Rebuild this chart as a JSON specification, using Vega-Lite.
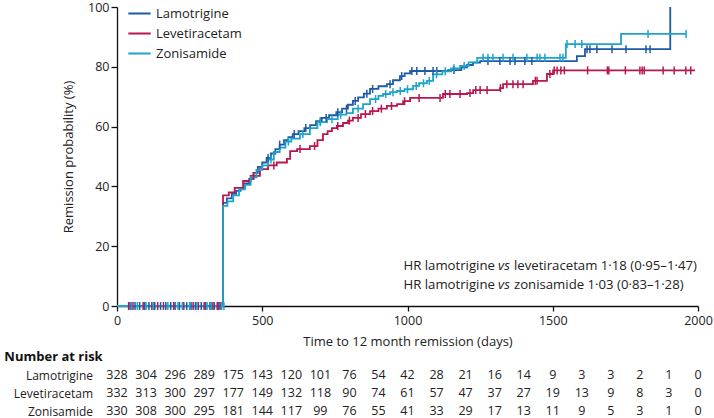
{
  "$schema": "https://vega.github.io/schema/vega-lite/v6.json",
  "padding": {"left": 4, "top": 1, "right": 0, "bottom": 0},
  "config": {
    "font": "Open Sans",
    "view": {"stroke": null},
    "axis": {"domainColor": "#111", "tickColor": "#111", "labelColor": "#222", "titleColor": "#222", "labelFontSize": 12.5, "titleFontSize": 13, "titleFontWeight": "normal", "grid": false, "domainWidth": 1.3, "tickWidth": 1.3, "labelFlush": false},
    "concat": {"spacing": 2}
  },
  "datasets": {
    "curves": [
      {"group":"Lamotrigine","day":0,"surv":0},{"group":"Lamotrigine","day":365,"surv":34.5},{"group":"Lamotrigine","day":378,"surv":36},{"group":"Lamotrigine","day":395,"surv":37.5},{"group":"Lamotrigine","day":410,"surv":38.5},{"group":"Lamotrigine","day":425,"surv":39.5},{"group":"Lamotrigine","day":440,"surv":41},{"group":"Lamotrigine","day":455,"surv":42.5},{"group":"Lamotrigine","day":470,"surv":44.5},{"group":"Lamotrigine","day":485,"surv":46.5},{"group":"Lamotrigine","day":500,"surv":48},{"group":"Lamotrigine","day":515,"surv":49.5},{"group":"Lamotrigine","day":530,"surv":51},{"group":"Lamotrigine","day":545,"surv":52.5},{"group":"Lamotrigine","day":560,"surv":54},{"group":"Lamotrigine","day":575,"surv":55.5},{"group":"Lamotrigine","day":590,"surv":56.5},{"group":"Lamotrigine","day":605,"surv":57.5},{"group":"Lamotrigine","day":625,"surv":58.5},{"group":"Lamotrigine","day":645,"surv":59.5},{"group":"Lamotrigine","day":665,"surv":60.5},{"group":"Lamotrigine","day":685,"surv":61.8},{"group":"Lamotrigine","day":705,"surv":62.9},{"group":"Lamotrigine","day":730,"surv":63.8},{"group":"Lamotrigine","day":755,"surv":64.8},{"group":"Lamotrigine","day":775,"surv":66},{"group":"Lamotrigine","day":795,"surv":67.3},{"group":"Lamotrigine","day":812,"surv":68.6},{"group":"Lamotrigine","day":830,"surv":69.8},{"group":"Lamotrigine","day":850,"surv":71},{"group":"Lamotrigine","day":871,"surv":72.6},{"group":"Lamotrigine","day":900,"surv":73.5},{"group":"Lamotrigine","day":929,"surv":74.2},{"group":"Lamotrigine","day":950,"surv":75.5},{"group":"Lamotrigine","day":974,"surv":76.9},{"group":"Lamotrigine","day":990,"surv":77.8},{"group":"Lamotrigine","day":1009,"surv":78.6},{"group":"Lamotrigine","day":1140,"surv":78.9},{"group":"Lamotrigine","day":1185,"surv":79.8},{"group":"Lamotrigine","day":1205,"surv":80.6},{"group":"Lamotrigine","day":1225,"surv":81.4},{"group":"Lamotrigine","day":1250,"surv":81.9},{"group":"Lamotrigine","day":1583,"surv":83.6},{"group":"Lamotrigine","day":1611,"surv":85.9},{"group":"Lamotrigine","day":1904,"surv":85.9},{"group":"Lamotrigine","day":1904.5,"surv":100},
      {"group":"Levetiracetam","day":0,"surv":0},{"group":"Levetiracetam","day":365,"surv":37},{"group":"Levetiracetam","day":385,"surv":38},{"group":"Levetiracetam","day":405,"surv":39.5},{"group":"Levetiracetam","day":434,"surv":41.8},{"group":"Levetiracetam","day":460,"surv":43.5},{"group":"Levetiracetam","day":492,"surv":45.8},{"group":"Levetiracetam","day":520,"surv":47},{"group":"Levetiracetam","day":550,"surv":48},{"group":"Levetiracetam","day":585,"surv":49.2},{"group":"Levetiracetam","day":596,"surv":51.8},{"group":"Levetiracetam","day":620,"surv":52.5},{"group":"Levetiracetam","day":664,"surv":53.5},{"group":"Levetiracetam","day":690,"surv":55.5},{"group":"Levetiracetam","day":709,"surv":57.5},{"group":"Levetiracetam","day":725,"surv":58.5},{"group":"Levetiracetam","day":740,"surv":59.5},{"group":"Levetiracetam","day":757,"surv":60.2},{"group":"Levetiracetam","day":778,"surv":61.2},{"group":"Levetiracetam","day":795,"surv":62},{"group":"Levetiracetam","day":812,"surv":62.9},{"group":"Levetiracetam","day":840,"surv":64.2},{"group":"Levetiracetam","day":871,"surv":65.2},{"group":"Levetiracetam","day":900,"surv":66},{"group":"Levetiracetam","day":929,"surv":66.9},{"group":"Levetiracetam","day":964,"surv":67.5},{"group":"Levetiracetam","day":985,"surv":68.5},{"group":"Levetiracetam","day":1009,"surv":69.6},{"group":"Levetiracetam","day":1122,"surv":70.9},{"group":"Levetiracetam","day":1205,"surv":71.2},{"group":"Levetiracetam","day":1226,"surv":72.2},{"group":"Levetiracetam","day":1318,"surv":72.9},{"group":"Levetiracetam","day":1329,"surv":74.2},{"group":"Levetiracetam","day":1432,"surv":75.3},{"group":"Levetiracetam","day":1480,"surv":77.6},{"group":"Levetiracetam","day":1501,"surv":78.8},{"group":"Levetiracetam","day":1990,"surv":78.8},
      {"group":"Zonisamide","day":0,"surv":0},{"group":"Zonisamide","day":365,"surv":33.5},{"group":"Zonisamide","day":380,"surv":35},{"group":"Zonisamide","day":400,"surv":37},{"group":"Zonisamide","day":420,"surv":39},{"group":"Zonisamide","day":440,"surv":40.5},{"group":"Zonisamide","day":460,"surv":43},{"group":"Zonisamide","day":480,"surv":45.5},{"group":"Zonisamide","day":500,"surv":47},{"group":"Zonisamide","day":520,"surv":49},{"group":"Zonisamide","day":540,"surv":51.5},{"group":"Zonisamide","day":560,"surv":53},{"group":"Zonisamide","day":580,"surv":55},{"group":"Zonisamide","day":600,"surv":56},{"group":"Zonisamide","day":630,"surv":57.5},{"group":"Zonisamide","day":664,"surv":59.5},{"group":"Zonisamide","day":690,"surv":61.5},{"group":"Zonisamide","day":723,"surv":62.5},{"group":"Zonisamide","day":760,"surv":64},{"group":"Zonisamide","day":790,"surv":64.5},{"group":"Zonisamide","day":812,"surv":66},{"group":"Zonisamide","day":847,"surv":67.5},{"group":"Zonisamide","day":871,"surv":69.2},{"group":"Zonisamide","day":900,"surv":70.3},{"group":"Zonisamide","day":916,"surv":70.9},{"group":"Zonisamide","day":940,"surv":71.5},{"group":"Zonisamide","day":964,"surv":71.9},{"group":"Zonisamide","day":990,"surv":72.5},{"group":"Zonisamide","day":1019,"surv":73.6},{"group":"Zonisamide","day":1040,"surv":74.5},{"group":"Zonisamide","day":1067,"surv":75.3},{"group":"Zonisamide","day":1088,"surv":77.5},{"group":"Zonisamide","day":1120,"surv":78.5},{"group":"Zonisamide","day":1150,"surv":79.5},{"group":"Zonisamide","day":1181,"surv":80.3},{"group":"Zonisamide","day":1210,"surv":81.5},{"group":"Zonisamide","day":1240,"surv":83},{"group":"Zonisamide","day":1545,"surv":87.6},{"group":"Zonisamide","day":1735,"surv":91},{"group":"Zonisamide","day":1960,"surv":91}
    ],
    "censors": [
      {"group":"Lamotrigine","day":45,"surv":0},{"group":"Lamotrigine","day":62,"surv":0},{"group":"Lamotrigine","day":78,"surv":0},{"group":"Lamotrigine","day":95,"surv":0},{"group":"Lamotrigine","day":110,"surv":0},{"group":"Lamotrigine","day":130,"surv":0},{"group":"Lamotrigine","day":150,"surv":0},{"group":"Lamotrigine","day":168,"surv":0},{"group":"Lamotrigine","day":185,"surv":0},{"group":"Lamotrigine","day":200,"surv":0},{"group":"Lamotrigine","day":215,"surv":0},{"group":"Lamotrigine","day":240,"surv":0},{"group":"Lamotrigine","day":255,"surv":0},{"group":"Lamotrigine","day":270,"surv":0},{"group":"Lamotrigine","day":290,"surv":0},{"group":"Lamotrigine","day":305,"surv":0},{"group":"Lamotrigine","day":320,"surv":0},{"group":"Lamotrigine","day":335,"surv":0},{"group":"Lamotrigine","day":350,"surv":0},
      {"group":"Levetiracetam","day":40,"surv":0},{"group":"Levetiracetam","day":55,"surv":0},{"group":"Levetiracetam","day":90,"surv":0},{"group":"Levetiracetam","day":120,"surv":0},{"group":"Levetiracetam","day":140,"surv":0},{"group":"Levetiracetam","day":160,"surv":0},{"group":"Levetiracetam","day":195,"surv":0},{"group":"Levetiracetam","day":230,"surv":0},{"group":"Levetiracetam","day":262,"surv":0},{"group":"Levetiracetam","day":280,"surv":0},{"group":"Levetiracetam","day":300,"surv":0},{"group":"Levetiracetam","day":330,"surv":0},{"group":"Levetiracetam","day":345,"surv":0},{"group":"Levetiracetam","day":355,"surv":0},
      {"group":"Zonisamide","day":50,"surv":0},{"group":"Zonisamide","day":70,"surv":0},{"group":"Zonisamide","day":100,"surv":0},{"group":"Zonisamide","day":125,"surv":0},{"group":"Zonisamide","day":175,"surv":0},{"group":"Zonisamide","day":210,"surv":0},{"group":"Zonisamide","day":225,"surv":0},{"group":"Zonisamide","day":250,"surv":0},{"group":"Zonisamide","day":275,"surv":0},{"group":"Zonisamide","day":310,"surv":0},{"group":"Zonisamide","day":325,"surv":0},{"group":"Zonisamide","day":360,"surv":0},{"group":"Zonisamide","day":368,"surv":0},
      {"group":"Lamotrigine","day":520,"surv":49.5},{"group":"Lamotrigine","day":560,"surv":54},{"group":"Lamotrigine","day":610,"surv":57.5},{"group":"Lamotrigine","day":650,"surv":59.5},{"group":"Lamotrigine","day":700,"surv":61.8},{"group":"Lamotrigine","day":720,"surv":62.9},{"group":"Lamotrigine","day":760,"surv":64.8},{"group":"Lamotrigine","day":790,"surv":66},{"group":"Lamotrigine","day":820,"surv":68.6},{"group":"Lamotrigine","day":860,"surv":71},{"group":"Lamotrigine","day":880,"surv":72.6},{"group":"Lamotrigine","day":940,"surv":74.2},{"group":"Lamotrigine","day":980,"surv":76.9},{"group":"Lamotrigine","day":1015,"surv":78.6},{"group":"Lamotrigine","day":1032,"surv":78.6},{"group":"Lamotrigine","day":1060,"surv":78.6},{"group":"Lamotrigine","day":1088,"surv":78.6},{"group":"Lamotrigine","day":1101,"surv":78.6},{"group":"Lamotrigine","day":1160,"surv":78.9},{"group":"Lamotrigine","day":1277,"surv":81.9},{"group":"Lamotrigine","day":1318,"surv":81.9},{"group":"Lamotrigine","day":1353,"surv":81.9},{"group":"Lamotrigine","day":1370,"surv":81.9},{"group":"Lamotrigine","day":1404,"surv":81.9},{"group":"Lamotrigine","day":1428,"surv":81.9},{"group":"Lamotrigine","day":1618,"surv":85.9},{"group":"Lamotrigine","day":1628,"surv":85.9},{"group":"Lamotrigine","day":1652,"surv":85.9},{"group":"Lamotrigine","day":1704,"surv":85.9},{"group":"Lamotrigine","day":1752,"surv":85.9},{"group":"Lamotrigine","day":1821,"surv":85.9},{"group":"Lamotrigine","day":1835,"surv":85.9},
      {"group":"Levetiracetam","day":470,"surv":43.5},{"group":"Levetiracetam","day":540,"surv":47},{"group":"Levetiracetam","day":630,"surv":52.5},{"group":"Levetiracetam","day":680,"surv":53.5},{"group":"Levetiracetam","day":760,"surv":60.2},{"group":"Levetiracetam","day":800,"surv":62},{"group":"Levetiracetam","day":830,"surv":62.9},{"group":"Levetiracetam","day":855,"surv":64.2},{"group":"Levetiracetam","day":880,"surv":65.2},{"group":"Levetiracetam","day":910,"surv":66},{"group":"Levetiracetam","day":945,"surv":66.9},{"group":"Levetiracetam","day":990,"surv":68.5},{"group":"Levetiracetam","day":1040,"surv":69.6},{"group":"Levetiracetam","day":1112,"surv":69.6},{"group":"Levetiracetam","day":1130,"surv":70.9},{"group":"Levetiracetam","day":1146,"surv":70.9},{"group":"Levetiracetam","day":1181,"surv":70.9},{"group":"Levetiracetam","day":1215,"surv":71.2},{"group":"Levetiracetam","day":1235,"surv":72.2},{"group":"Levetiracetam","day":1250,"surv":72.2},{"group":"Levetiracetam","day":1274,"surv":72.2},{"group":"Levetiracetam","day":1320,"surv":72.9},{"group":"Levetiracetam","day":1342,"surv":74.2},{"group":"Levetiracetam","day":1363,"surv":74.2},{"group":"Levetiracetam","day":1380,"surv":74.2},{"group":"Levetiracetam","day":1398,"surv":74.2},{"group":"Levetiracetam","day":1440,"surv":75.3},{"group":"Levetiracetam","day":1446,"surv":75.3},{"group":"Levetiracetam","day":1490,"surv":77.6},{"group":"Levetiracetam","day":1505,"surv":78.8},{"group":"Levetiracetam","day":1515,"surv":78.8},{"group":"Levetiracetam","day":1528,"surv":78.8},{"group":"Levetiracetam","day":1540,"surv":78.8},{"group":"Levetiracetam","day":1620,"surv":78.8},{"group":"Levetiracetam","day":1688,"surv":78.8},{"group":"Levetiracetam","day":1693,"surv":78.8},{"group":"Levetiracetam","day":1750,"surv":78.8},{"group":"Levetiracetam","day":1800,"surv":78.8},{"group":"Levetiracetam","day":1808,"surv":78.8},{"group":"Levetiracetam","day":1815,"surv":78.8},{"group":"Levetiracetam","day":1880,"surv":78.8},{"group":"Levetiracetam","day":1918,"surv":78.8},{"group":"Levetiracetam","day":1958,"surv":78.8},{"group":"Levetiracetam","day":1975,"surv":78.8},
      {"group":"Zonisamide","day":530,"surv":49},{"group":"Zonisamide","day":590,"surv":55},{"group":"Zonisamide","day":640,"surv":57.5},{"group":"Zonisamide","day":700,"surv":61.5},{"group":"Zonisamide","day":740,"surv":62.5},{"group":"Zonisamide","day":770,"surv":64},{"group":"Zonisamide","day":830,"surv":66},{"group":"Zonisamide","day":890,"surv":69.2},{"group":"Zonisamide","day":925,"surv":70.9},{"group":"Zonisamide","day":950,"surv":71.5},{"group":"Zonisamide","day":975,"surv":71.9},{"group":"Zonisamide","day":1000,"surv":72.5},{"group":"Zonisamide","day":1030,"surv":73.6},{"group":"Zonisamide","day":1055,"surv":74.5},{"group":"Zonisamide","day":1075,"surv":75.3},{"group":"Zonisamide","day":1100,"surv":77.5},{"group":"Zonisamide","day":1130,"surv":78.5},{"group":"Zonisamide","day":1160,"surv":79.5},{"group":"Zonisamide","day":1195,"surv":80.3},{"group":"Zonisamide","day":1260,"surv":83},{"group":"Zonisamide","day":1277,"surv":83},{"group":"Zonisamide","day":1294,"surv":83},{"group":"Zonisamide","day":1329,"surv":83},{"group":"Zonisamide","day":1363,"surv":83},{"group":"Zonisamide","day":1411,"surv":83},{"group":"Zonisamide","day":1446,"surv":83},{"group":"Zonisamide","day":1456,"surv":83},{"group":"Zonisamide","day":1473,"surv":83},{"group":"Zonisamide","day":1525,"surv":83},{"group":"Zonisamide","day":1535,"surv":83},{"group":"Zonisamide","day":1549,"surv":87.6},{"group":"Zonisamide","day":1577,"surv":87.6},{"group":"Zonisamide","day":1600,"surv":87.6},{"group":"Zonisamide","day":1828,"surv":91},{"group":"Zonisamide","day":1959,"surv":91}
    ],
    "hr": [
      {"day":1332,"pos":13.4,"pre":"HR lamotrigine","vs":"vs","post":"levetiracetam 1·18 (0·95–1·47)"},
      {"day":1332,"pos":7.0,"pre":"HR lamotrigine","vs":"vs","post":"zonisamide 1·03 (0·83–1·28)"}
    ],
    "risk": [
      {"group":"Lamotrigine","day":0,"n":328},{"group":"Lamotrigine","day":100,"n":304},{"group":"Lamotrigine","day":200,"n":296},{"group":"Lamotrigine","day":300,"n":289},{"group":"Lamotrigine","day":400,"n":175},{"group":"Lamotrigine","day":500,"n":143},{"group":"Lamotrigine","day":600,"n":120},{"group":"Lamotrigine","day":700,"n":101},{"group":"Lamotrigine","day":800,"n":76},{"group":"Lamotrigine","day":900,"n":54},{"group":"Lamotrigine","day":1000,"n":42},{"group":"Lamotrigine","day":1100,"n":28},{"group":"Lamotrigine","day":1200,"n":21},{"group":"Lamotrigine","day":1300,"n":16},{"group":"Lamotrigine","day":1400,"n":14},{"group":"Lamotrigine","day":1500,"n":9},{"group":"Lamotrigine","day":1600,"n":3},{"group":"Lamotrigine","day":1700,"n":3},{"group":"Lamotrigine","day":1800,"n":2},{"group":"Lamotrigine","day":1900,"n":1},{"group":"Lamotrigine","day":2000,"n":0},
      {"group":"Levetiracetam","day":0,"n":332},{"group":"Levetiracetam","day":100,"n":313},{"group":"Levetiracetam","day":200,"n":300},{"group":"Levetiracetam","day":300,"n":297},{"group":"Levetiracetam","day":400,"n":177},{"group":"Levetiracetam","day":500,"n":149},{"group":"Levetiracetam","day":600,"n":132},{"group":"Levetiracetam","day":700,"n":118},{"group":"Levetiracetam","day":800,"n":90},{"group":"Levetiracetam","day":900,"n":74},{"group":"Levetiracetam","day":1000,"n":61},{"group":"Levetiracetam","day":1100,"n":57},{"group":"Levetiracetam","day":1200,"n":47},{"group":"Levetiracetam","day":1300,"n":37},{"group":"Levetiracetam","day":1400,"n":27},{"group":"Levetiracetam","day":1500,"n":19},{"group":"Levetiracetam","day":1600,"n":13},{"group":"Levetiracetam","day":1700,"n":9},{"group":"Levetiracetam","day":1800,"n":8},{"group":"Levetiracetam","day":1900,"n":3},{"group":"Levetiracetam","day":2000,"n":0},
      {"group":"Zonisamide","day":0,"n":330},{"group":"Zonisamide","day":100,"n":308},{"group":"Zonisamide","day":200,"n":300},{"group":"Zonisamide","day":300,"n":295},{"group":"Zonisamide","day":400,"n":181},{"group":"Zonisamide","day":500,"n":144},{"group":"Zonisamide","day":600,"n":117},{"group":"Zonisamide","day":700,"n":99},{"group":"Zonisamide","day":800,"n":76},{"group":"Zonisamide","day":900,"n":55},{"group":"Zonisamide","day":1000,"n":41},{"group":"Zonisamide","day":1100,"n":33},{"group":"Zonisamide","day":1200,"n":29},{"group":"Zonisamide","day":1300,"n":17},{"group":"Zonisamide","day":1400,"n":13},{"group":"Zonisamide","day":1500,"n":11},{"group":"Zonisamide","day":1600,"n":9},{"group":"Zonisamide","day":1700,"n":5},{"group":"Zonisamide","day":1800,"n":3},{"group":"Zonisamide","day":1900,"n":1},{"group":"Zonisamide","day":2000,"n":0}
    ]
  },
  "vconcat": [
    {
      "width": 581,
      "height": 299,
      "layer": [
        {
          "data": {"name": "curves"},
          "mark": {"type": "line", "interpolate": "step-after", "strokeWidth": 1.8},
          "encoding": {
            "x": {"field": "day", "type": "quantitative", "scale": {"domain": [0, 2000], "nice": false},
                  "axis": {"values": [0, 500, 1000, 1500, 2000], "format": "d", "tickSize": 5, "labelPadding": 3, "title": "Time to 12 month remission (days)", "titlePadding": 9}},
            "y": {"field": "surv", "type": "quantitative", "scale": {"domain": [0, 100], "nice": false},
                  "axis": {"values": [0, 20, 40, 60, 80, 100], "tickSize": 6, "labelPadding": 2, "title": "Remission probability (%)", "titlePadding": 12}},
            "color": {"field": "group", "type": "nominal",
                      "scale": {"domain": ["Lamotrigine", "Levetiracetam", "Zonisamide"], "range": ["#1f5aa6", "#b9164f", "#1ea3cc"]},
                      "legend": {"title": null, "orient": "none", "legendX": 10, "legendY": -6, "symbolType": "stroke", "symbolSize": 500, "symbolStrokeWidth": 2, "labelFontSize": 13, "labelColor": "#222", "rowPadding": -4, "labelOffset": 4}},
            "detail": {"field": "group"}
          }
        },
        {
          "data": {"name": "censors"},
          "mark": {"type": "point", "shape": "M0,-1L0,1", "filled": false, "strokeWidth": 1.5, "size": 64, "opacity": 1},
          "encoding": {
            "x": {"field": "day", "type": "quantitative"},
            "y": {"field": "surv", "type": "quantitative"},
            "color": {"field": "group", "type": "nominal", "legend": null}
          }
        },
        {
          "data": {"name": "hr"},
          "mark": {"type": "text", "align": "right", "baseline": "middle", "fontSize": 13.2, "color": "#222", "dx": -9},
          "encoding": {"x": {"field": "day", "type": "quantitative"}, "y": {"field": "pos", "type": "quantitative"}, "text": {"field": "pre"}}
        },
        {
          "data": {"name": "hr"},
          "mark": {"type": "text", "align": "center", "baseline": "middle", "fontSize": 13.2, "fontStyle": "italic", "color": "#222"},
          "encoding": {"x": {"field": "day", "type": "quantitative"}, "y": {"field": "pos", "type": "quantitative"}, "text": {"field": "vs"}}
        },
        {
          "data": {"name": "hr"},
          "mark": {"type": "text", "align": "left", "baseline": "middle", "fontSize": 13.2, "color": "#222", "dx": 10},
          "encoding": {"x": {"field": "day", "type": "quantitative"}, "y": {"field": "pos", "type": "quantitative"}, "text": {"field": "post"}}
        }
      ]
    },
    {
      "width": 581,
      "height": 54,
      "title": {"text": "Number at risk", "anchor": "start", "frame": "bounds", "fontSize": 13, "fontWeight": "bold", "color": "#111", "offset": 2, "dx": -9},
      "data": {"name": "risk"},
      "mark": {"type": "text", "fontSize": 12.5, "color": "#222", "baseline": "middle"},
      "encoding": {
        "x": {"field": "day", "type": "quantitative", "scale": {"domain": [0, 2000], "nice": false}, "axis": null},
        "y": {"field": "group", "type": "nominal", "sort": ["Lamotrigine", "Levetiracetam", "Zonisamide"], "title": null,
              "axis": {"domain": false, "ticks": false, "labelPadding": 24.5, "labelFontSize": 12}},
        "text": {"field": "n", "type": "quantitative"}
      }
    }
  ]
}
